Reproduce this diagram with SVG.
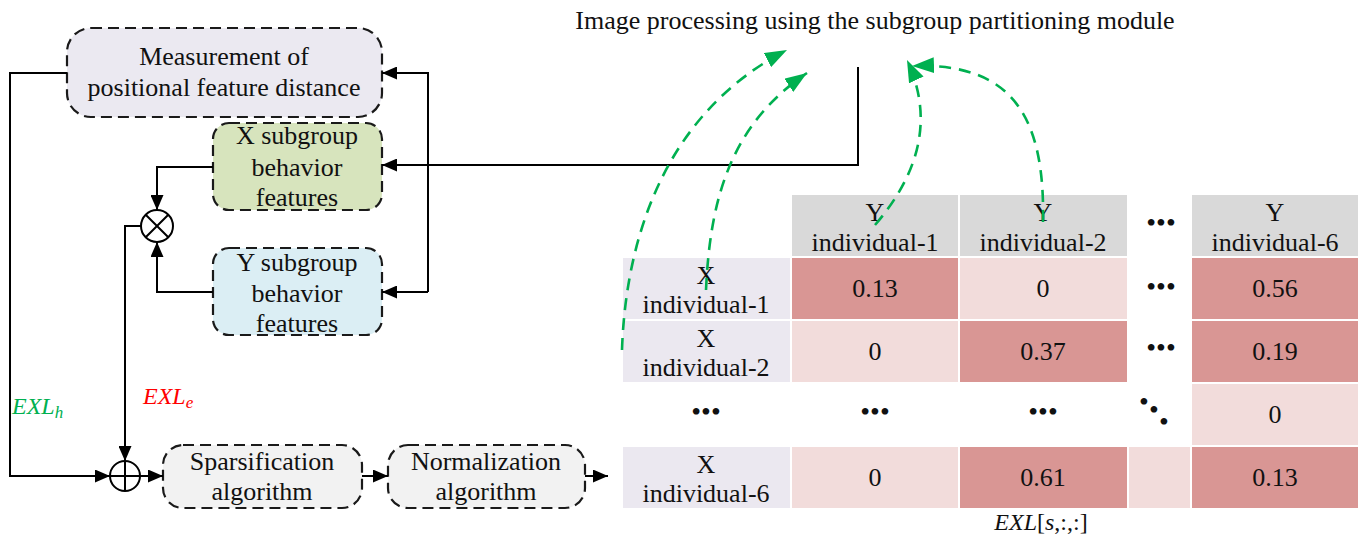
<svg xmlns="http://www.w3.org/2000/svg" width="1365" height="538" viewBox="0 0 1365 538">
<style>
text{font-family:"Liberation Serif","Times New Roman",serif;fill:#111;text-anchor:middle}
.t{font-size:26px}
.box{stroke:#1a1a1a;stroke-width:2.2;stroke-dasharray:11 6}
.ln{fill:none;stroke:#000;stroke-width:2}
.g{fill:none;stroke:#00b050;stroke-width:2.6;stroke-dasharray:12 8}
.hd{fill:#d9d9d9}.rl{fill:#ebe8f0}.dk{fill:#d99694}.lt{fill:#f2dcdb}
.dots{font-size:28px;letter-spacing:0px}
</style>
<defs>
<marker id="ab" viewBox="0 0 15 13" refX="15" refY="6.5" markerWidth="15" markerHeight="13" markerUnits="userSpaceOnUse" orient="auto"><path d="M0,0 L15,6.5 L0,13 z" fill="#000"/></marker>
<marker id="ag" viewBox="0 0 22 16" refX="22" refY="8" markerWidth="22" markerHeight="16" markerUnits="userSpaceOnUse" orient="auto"><path d="M0,0 L22,8 L0,16 z" fill="#00b050"/></marker>
</defs>
<text class="t" x="875" y="29">Image processing using the subgroup partitioning module</text>

<g id="measure">
<rect class="box" x="67" y="28" width="315" height="89" rx="24" fill="#ebe9f1"/>
<text class="t" x="224" y="65">Measurement of</text>
<text class="t" x="224" y="96">positional feature distance</text>
</g>
<g id="xsub">
<rect class="box" x="213" y="123" width="169" height="87" rx="16" fill="#d7e4bd"/>
<text class="t" x="297" y="144">X subgroup</text>
<text class="t" x="297" y="176">behavior</text>
<text class="t" x="297" y="206">features</text>
</g>
<g id="ysub">
<rect class="box" x="213" y="248" width="169" height="87" rx="16" fill="#dbeef4"/>
<text class="t" x="297" y="271">Y subgroup</text>
<text class="t" x="297" y="302">behavior</text>
<text class="t" x="297" y="332">features</text>
</g>
<g id="mult">
<circle cx="157" cy="226" r="16" fill="#fff" stroke="#000" stroke-width="2"/>
<path d="M145.7,214.7 L168.3,237.3 M168.3,214.7 L145.7,237.3" stroke="#000" stroke-width="2"/>
</g>
<g id="plus">
<circle cx="125" cy="476" r="15" fill="#fff" stroke="#000" stroke-width="2"/>
<path d="M110,476 H140 M125,461 V491" stroke="#000" stroke-width="2"/>
</g>
<g id="sparse">
<rect class="box" x="163" y="445" width="199" height="63" rx="20" fill="#f2f2f2"/>
<text class="t" x="262" y="470">Sparsification</text>
<text class="t" x="262" y="500">algorithm</text>
</g>
<g id="norm">
<rect class="box" x="388" y="445" width="197" height="63" rx="20" fill="#f2f2f2"/>
<text class="t" x="486" y="470">Normalization</text>
<text class="t" x="486" y="500">algorithm</text>
</g>
<g id="labels">
<text x="12" y="414" style="font-size:24px;font-style:italic;fill:#00b050;text-anchor:start">EXL<tspan style="font-size:17px" dy="4">h</tspan></text>
<text x="143" y="404" style="font-size:24px;font-style:italic;fill:#ff0000;text-anchor:start">EXL<tspan style="font-size:17px" dy="4">e</tspan></text>
</g>

<g id="table">
<rect class="hd" x="792" y="195" width="166" height="61"/>
<rect class="hd" x="960" y="195" width="167" height="61"/>
<rect class="hd" x="1192" y="195" width="166" height="61"/>
<rect class="rl" x="623" y="258" width="167" height="61"/>
<rect class="dk" x="792" y="258" width="166" height="61"/>
<rect class="lt" x="960" y="258" width="167" height="61"/>
<rect class="dk" x="1192" y="258" width="166" height="61"/>
<rect class="rl" x="623" y="321" width="167" height="61"/>
<rect class="lt" x="792" y="321" width="166" height="61"/>
<rect class="dk" x="960" y="321" width="167" height="61"/>
<rect class="dk" x="1192" y="321" width="166" height="61"/>
<rect class="lt" x="1192" y="384" width="166" height="61"/>
<rect class="rl" x="623" y="447" width="167" height="61"/>
<rect class="lt" x="792" y="447" width="166" height="61"/>
<rect class="dk" x="960" y="447" width="167" height="61"/>
<rect class="lt" x="1129" y="447" width="61" height="61"/>
<rect class="dk" x="1192" y="447" width="166" height="61"/>
<g class="t">
<text x="875" y="221">Y</text><text x="875" y="251">individual-1</text>
<text x="1043" y="221">Y</text><text x="1043" y="251">individual-2</text>
<text x="1275" y="221">Y</text><text x="1275" y="251">individual-6</text>
<text x="706" y="284">X</text><text x="706" y="313">individual-1</text>
<text x="706" y="347">X</text><text x="706" y="376">individual-2</text>
<text x="706" y="473">X</text><text x="706" y="502">individual-6</text>
<text x="875" y="297">0.13</text><text x="1043" y="297">0</text><text x="1275" y="297">0.56</text>
<text x="875" y="360">0</text><text x="1043" y="360">0.37</text><text x="1275" y="360">0.19</text>
<text x="1275" y="423">0</text>
<text x="875" y="486">0</text><text x="1043" y="486">0.61</text><text x="1275" y="486">0.13</text>
</g>
<g class="dots">
<text x="1161" y="232">•••</text>
<text x="1161" y="296">•••</text>
<text x="1161" y="357">•••</text>
<text x="706" y="421">•••</text>
<text x="875" y="421">•••</text>
<text x="1043" y="421">•••</text>
<text><tspan x="1144" y="411">•</tspan><tspan x="1154" y="419">•</tspan><tspan x="1164" y="431">•</tspan></text>
</g>
<text x="1041" y="530" style="font-size:24px"><tspan font-style="italic">EXL</tspan>[<tspan font-style="italic">s</tspan>,:,:]</text>
</g>

<g id="connectors">
<path class="ln" d="M67,73 H10 V476 H110" marker-end="url(#ab)"/>
<path class="ln" d="M858,67 V165 H382" marker-end="url(#ab)"/>
<path class="ln" d="M428,292 V73 H382" marker-end="url(#ab)"/>
<path class="ln" d="M428,292 H382" marker-end="url(#ab)"/>
<path class="ln" d="M213,167 H157 V210" marker-end="url(#ab)"/>
<path class="ln" d="M213,292 H157 V242" marker-end="url(#ab)"/>
<path class="ln" d="M141,226 H125 V461" marker-end="url(#ab)"/>
<path class="ln" d="M140,476 H163" marker-end="url(#ab)"/>
<path class="ln" d="M362,476 H388" marker-end="url(#ab)"/>
<path class="ln" d="M585,476 H608" marker-end="url(#ab)"/>
<path class="g" d="M622,350 C626,230 670,110 787,50" marker-end="url(#ag)"/>
<path class="g" d="M706,290 C710,200 730,125 807,73" marker-end="url(#ag)"/>
<path class="g" d="M875,225 C918,175 935,120 907,60" marker-end="url(#ag)"/>
<path class="g" d="M1043,222 C1045,120 1015,62 912,66" marker-end="url(#ag)"/>
</g>
</svg>
